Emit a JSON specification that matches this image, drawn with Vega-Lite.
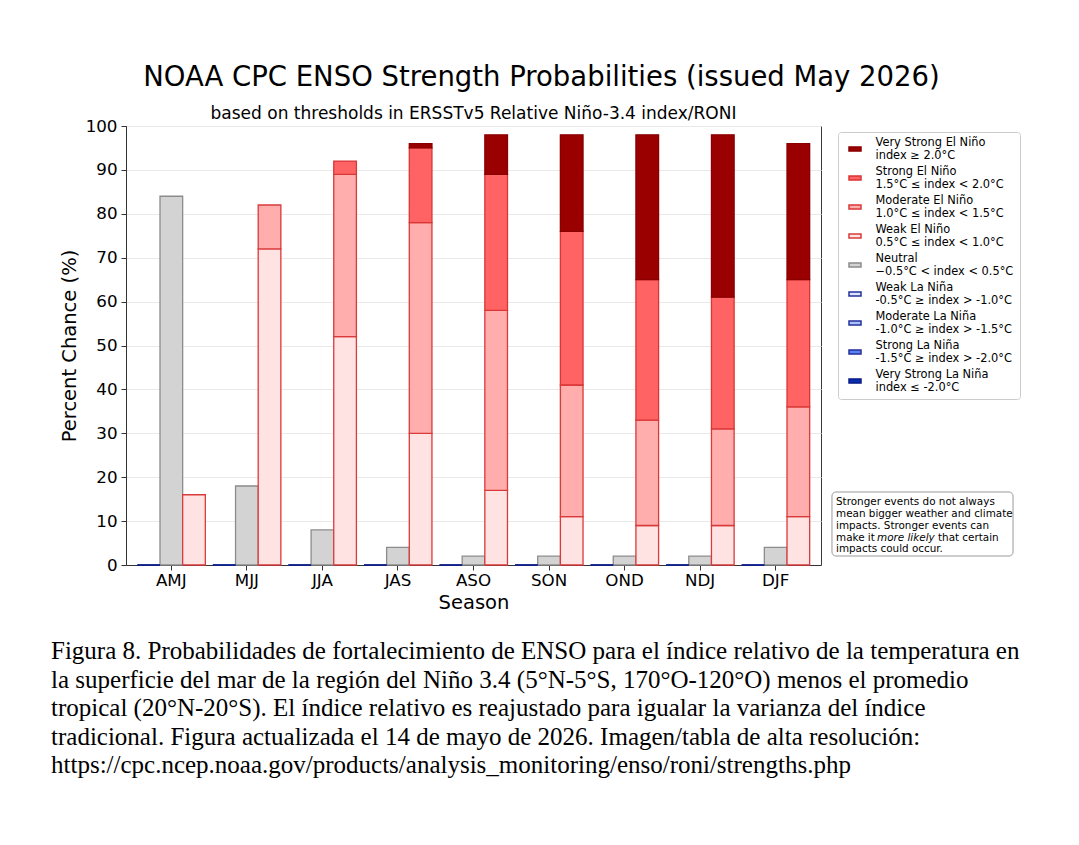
{
  "$schema": "https://vega.github.io/schema/vega-lite/v6.json",
  "width": 695,
  "height": 439,
  "autosize": {"type": "none"},
  "padding": {"left": 126, "top": 126, "right": 258, "bottom": 280},
  "background": "white",
  "config": {
    "font": "DejaVu Sans",
    "view": {"stroke": "#3a3a3a", "strokeWidth": 1},
    "axis": {
      "labelColor": "#000",
      "titleColor": "#000",
      "titleFontWeight": "normal",
      "tickColor": "#333",
      "domainColor": "#333",
      "labelFont": "DejaVu Sans",
      "titleFont": "DejaVu Sans"
    }
  },
  "title": {
    "text": "NOAA CPC ENSO Strength Probabilities (issued May 2026)",
    "font": "DejaVu Sans",
    "fontSize": 27.5,
    "fontWeight": "normal",
    "color": "#000",
    "anchor": "middle",
    "frame": "group",
    "baseline": "alphabetic",
    "dx": 68,
    "offset": -8
  },
  "datasets": {
    "probs": [
      {"season": "AMJ", "group": "Neutral", "category": "Neutral", "rank": 0, "pct": 84},
      {"season": "AMJ", "group": "El Niño", "category": "Weak El Niño", "rank": 1, "pct": 16},
      {"season": "MJJ", "group": "Neutral", "category": "Neutral", "rank": 0, "pct": 18},
      {"season": "MJJ", "group": "El Niño", "category": "Weak El Niño", "rank": 1, "pct": 72},
      {"season": "MJJ", "group": "El Niño", "category": "Moderate El Niño", "rank": 2, "pct": 10},
      {"season": "JJA", "group": "Neutral", "category": "Neutral", "rank": 0, "pct": 8},
      {"season": "JJA", "group": "El Niño", "category": "Weak El Niño", "rank": 1, "pct": 52},
      {"season": "JJA", "group": "El Niño", "category": "Moderate El Niño", "rank": 2, "pct": 37},
      {"season": "JJA", "group": "El Niño", "category": "Strong El Niño", "rank": 3, "pct": 3},
      {"season": "JAS", "group": "Neutral", "category": "Neutral", "rank": 0, "pct": 4},
      {"season": "JAS", "group": "El Niño", "category": "Weak El Niño", "rank": 1, "pct": 30},
      {"season": "JAS", "group": "El Niño", "category": "Moderate El Niño", "rank": 2, "pct": 48},
      {"season": "JAS", "group": "El Niño", "category": "Strong El Niño", "rank": 3, "pct": 17},
      {"season": "JAS", "group": "El Niño", "category": "Very Strong El Niño", "rank": 4, "pct": 1},
      {"season": "ASO", "group": "Neutral", "category": "Neutral", "rank": 0, "pct": 2},
      {"season": "ASO", "group": "El Niño", "category": "Weak El Niño", "rank": 1, "pct": 17},
      {"season": "ASO", "group": "El Niño", "category": "Moderate El Niño", "rank": 2, "pct": 41},
      {"season": "ASO", "group": "El Niño", "category": "Strong El Niño", "rank": 3, "pct": 31},
      {"season": "ASO", "group": "El Niño", "category": "Very Strong El Niño", "rank": 4, "pct": 9},
      {"season": "SON", "group": "Neutral", "category": "Neutral", "rank": 0, "pct": 2},
      {"season": "SON", "group": "El Niño", "category": "Weak El Niño", "rank": 1, "pct": 11},
      {"season": "SON", "group": "El Niño", "category": "Moderate El Niño", "rank": 2, "pct": 30},
      {"season": "SON", "group": "El Niño", "category": "Strong El Niño", "rank": 3, "pct": 35},
      {"season": "SON", "group": "El Niño", "category": "Very Strong El Niño", "rank": 4, "pct": 22},
      {"season": "OND", "group": "Neutral", "category": "Neutral", "rank": 0, "pct": 2},
      {"season": "OND", "group": "El Niño", "category": "Weak El Niño", "rank": 1, "pct": 9},
      {"season": "OND", "group": "El Niño", "category": "Moderate El Niño", "rank": 2, "pct": 24},
      {"season": "OND", "group": "El Niño", "category": "Strong El Niño", "rank": 3, "pct": 32},
      {"season": "OND", "group": "El Niño", "category": "Very Strong El Niño", "rank": 4, "pct": 33},
      {"season": "NDJ", "group": "Neutral", "category": "Neutral", "rank": 0, "pct": 2},
      {"season": "NDJ", "group": "El Niño", "category": "Weak El Niño", "rank": 1, "pct": 9},
      {"season": "NDJ", "group": "El Niño", "category": "Moderate El Niño", "rank": 2, "pct": 22},
      {"season": "NDJ", "group": "El Niño", "category": "Strong El Niño", "rank": 3, "pct": 30},
      {"season": "NDJ", "group": "El Niño", "category": "Very Strong El Niño", "rank": 4, "pct": 37},
      {"season": "DJF", "group": "Neutral", "category": "Neutral", "rank": 0, "pct": 4},
      {"season": "DJF", "group": "El Niño", "category": "Weak El Niño", "rank": 1, "pct": 11},
      {"season": "DJF", "group": "El Niño", "category": "Moderate El Niño", "rank": 2, "pct": 25},
      {"season": "DJF", "group": "El Niño", "category": "Strong El Niño", "rank": 3, "pct": 29},
      {"season": "DJF", "group": "El Niño", "category": "Very Strong El Niño", "rank": 4, "pct": 31},
      {"season": "AMJ", "group": "La Niña", "category": "Weak La Niña", "rank": 1, "pct": 0},
      {"season": "AMJ", "group": "La Niña", "category": "Very Strong La Niña", "rank": 4, "pct": 0},
      {"season": "MJJ", "group": "La Niña", "category": "Weak La Niña", "rank": 1, "pct": 0},
      {"season": "MJJ", "group": "La Niña", "category": "Very Strong La Niña", "rank": 4, "pct": 0},
      {"season": "JJA", "group": "La Niña", "category": "Weak La Niña", "rank": 1, "pct": 0},
      {"season": "JJA", "group": "La Niña", "category": "Very Strong La Niña", "rank": 4, "pct": 0},
      {"season": "JAS", "group": "La Niña", "category": "Weak La Niña", "rank": 1, "pct": 0},
      {"season": "JAS", "group": "La Niña", "category": "Very Strong La Niña", "rank": 4, "pct": 0},
      {"season": "ASO", "group": "La Niña", "category": "Weak La Niña", "rank": 1, "pct": 0},
      {"season": "ASO", "group": "La Niña", "category": "Very Strong La Niña", "rank": 4, "pct": 0},
      {"season": "SON", "group": "La Niña", "category": "Weak La Niña", "rank": 1, "pct": 0},
      {"season": "SON", "group": "La Niña", "category": "Very Strong La Niña", "rank": 4, "pct": 0},
      {"season": "OND", "group": "La Niña", "category": "Weak La Niña", "rank": 1, "pct": 0},
      {"season": "OND", "group": "La Niña", "category": "Very Strong La Niña", "rank": 4, "pct": 0},
      {"season": "NDJ", "group": "La Niña", "category": "Weak La Niña", "rank": 1, "pct": 0},
      {"season": "NDJ", "group": "La Niña", "category": "Very Strong La Niña", "rank": 4, "pct": 0},
      {"season": "DJF", "group": "La Niña", "category": "Weak La Niña", "rank": 1, "pct": 0},
      {"season": "DJF", "group": "La Niña", "category": "Very Strong La Niña", "rank": 4, "pct": 0}
    ]
  },
  "layer": [
    {
      "data": {"name": "probs"},
      "mark": {"type": "bar", "strokeWidth": 1.3},
      "encoding": {
        "x": {
          "field": "season",
          "type": "nominal",
          "sort": ["AMJ", "MJJ", "JJA", "JAS", "ASO", "SON", "OND", "NDJ", "DJF"],
          "scale": {"paddingInner": 0, "paddingOuter": 0.1},
          "axis": {
            "title": "Season",
            "labelAngle": 0,
            "tickSize": 5,
            "labelFontSize": 16.7,
            "labelPadding": 2,
            "titleFontSize": 19.5,
            "titlePadding": 5
          }
        },
        "xOffset": {
          "field": "group",
          "type": "nominal",
          "sort": ["La Niña", "Neutral", "El Niño"],
          "scale": {"paddingInner": 0, "paddingOuter": 0.1667}
        },
        "y": {
          "field": "pct",
          "type": "quantitative",
          "stack": "zero",
          "scale": {"domain": [0, 100], "nice": false},
          "axis": {
            "title": "Percent Chance (%)",
            "values": [0, 10, 20, 30, 40, 50, 60, 70, 80, 90, 100],
            "grid": true,
            "gridColor": "#e9e9e9",
            "gridWidth": 1,
            "tickSize": 5,
            "labelFontSize": 16.7,
            "labelPadding": 4,
            "titleFontSize": 19.5,
            "titlePadding": 6
          }
        },
        "order": {"field": "rank", "type": "quantitative"},
        "color": {
          "field": "category",
          "type": "nominal",
          "scale": {
            "domain": ["Very Strong El Niño", "Strong El Niño", "Moderate El Niño", "Weak El Niño", "Neutral", "Weak La Niña", "Moderate La Niña", "Strong La Niña", "Very Strong La Niña"],
            "range": ["#9a0000", "#ff6363", "#ffadad", "#ffe3e3", "#d3d3d3", "#dbe5ff", "#a8c1ff", "#5a80f4", "#0a2db0"]
          },
          "legend": {
            "title": null,
            "orient": "none",
            "legendX": 712,
            "legendY": 6,
            "labelFont": "DejaVu Sans",
            "labelFontSize": 11.4,
            "labelColor": "#000",
            "labelOffset": 9.5,
            "labelLimit": 0,
            "symbolType": "M-0.6,-0.21H0.6V0.21H-0.6Z",
            "symbolSize": 400,
            "symbolStrokeWidth": 1.5,
            "rowPadding": 5,
            "padding": 6,
            "strokeColor": "#cccccc",
            "fillColor": "white",
            "cornerRadius": 3,
            "labelExpr": "[datum.label, datum.label == 'Very Strong El Niño' ? 'index ≥ 2.0°C' : datum.label == 'Strong El Niño' ? '1.5°C ≤ index < 2.0°C' : datum.label == 'Moderate El Niño' ? '1.0°C ≤ index < 1.5°C' : datum.label == 'Weak El Niño' ? '0.5°C ≤ index < 1.0°C' : datum.label == 'Neutral' ? '−0.5°C < index < 0.5°C' : datum.label == 'Weak La Niña' ? '-0.5°C ≥ index > -1.0°C' : datum.label == 'Moderate La Niña' ? '-1.0°C ≥ index > -1.5°C' : datum.label == 'Strong La Niña' ? '-1.5°C ≥ index > -2.0°C' : 'index ≤ -2.0°C']",
            "encode": {"labels": {"update": {"lineHeight": {"value": 12.5}, "dy": {"value": -6}}}}
          }
        },
        "stroke": {
          "field": "category",
          "type": "nominal",
          "scale": {
            "domain": ["Very Strong El Niño", "Strong El Niño", "Moderate El Niño", "Weak El Niño", "Neutral", "Weak La Niña", "Moderate La Niña", "Strong La Niña", "Very Strong La Niña"],
            "range": ["#8a0000", "#d93636", "#d93a3a", "#d93a3a", "#8c8c8c", "#26309a", "#26309a", "#26309a", "#0a1c88"]
          },
          "legend": {
            "title": null,
            "orient": "none",
            "legendX": 712,
            "legendY": 6,
            "labelFont": "DejaVu Sans",
            "labelFontSize": 11.4,
            "labelColor": "#000",
            "labelOffset": 9.5,
            "labelLimit": 0,
            "symbolType": "M-0.6,-0.21H0.6V0.21H-0.6Z",
            "symbolSize": 400,
            "symbolStrokeWidth": 1.5,
            "rowPadding": 5,
            "padding": 6,
            "strokeColor": "#cccccc",
            "fillColor": "white",
            "cornerRadius": 3,
            "labelExpr": "[datum.label, datum.label == 'Very Strong El Niño' ? 'index ≥ 2.0°C' : datum.label == 'Strong El Niño' ? '1.5°C ≤ index < 2.0°C' : datum.label == 'Moderate El Niño' ? '1.0°C ≤ index < 1.5°C' : datum.label == 'Weak El Niño' ? '0.5°C ≤ index < 1.0°C' : datum.label == 'Neutral' ? '−0.5°C < index < 0.5°C' : datum.label == 'Weak La Niña' ? '-0.5°C ≥ index > -1.0°C' : datum.label == 'Moderate La Niña' ? '-1.0°C ≥ index > -1.5°C' : datum.label == 'Strong La Niña' ? '-1.5°C ≥ index > -2.0°C' : 'index ≤ -2.0°C']",
            "encode": {"labels": {"update": {"lineHeight": {"value": 12.5}, "dy": {"value": -6}}}}
          }
        }
      }
    },
    {
      "data": {"values": [{"label": "based on thresholds in ERSSTv5 Relative Niño-3.4 index/RONI"}]},
      "mark": {"type": "text", "font": "DejaVu Sans", "fontSize": 17, "color": "#000", "align": "center", "baseline": "middle"},
      "encoding": {
        "text": {"field": "label"},
        "x": {"datum": 0.5, "type": "quantitative", "scale": {"domain": [0, 1]}, "axis": null},
        "y": {"datum": 1.0273, "type": "quantitative", "scale": {"domain": [0, 1]}, "axis": null}
      }
    },
    {
      "data": {"values": [{}]},
      "mark": {"type": "rect", "fill": "white", "stroke": "#9a9a9a", "strokeWidth": 1, "cornerRadius": 4},
      "encoding": {
        "x": {"datum": 1.0158, "type": "quantitative", "scale": {"domain": [0, 1]}, "axis": null},
        "x2": {"datum": 1.2763},
        "y": {"datum": 0.1663, "type": "quantitative", "scale": {"domain": [0, 1]}, "axis": null},
        "y2": {"datum": 0.0205}
      }
    },
    {
      "data": {"values": [{"note": "Stronger events do not always\nmean bigger weather and climate\nimpacts. Stronger events can"}]},
      "mark": {"type": "text", "font": "DejaVu Sans", "fontSize": 10.4, "color": "#000", "align": "left", "baseline": "middle", "lineBreak": "\n", "lineHeight": 11.7},
      "encoding": {
        "text": {"field": "note"},
        "x": {"datum": 1.0216, "type": "quantitative", "scale": {"domain": [0, 1]}, "axis": null},
        "y": {"datum": 0.1424, "type": "quantitative", "scale": {"domain": [0, 1]}, "axis": null}
      }
    },
    {
      "data": {"values": [{"note": "make it"}]},
      "mark": {"type": "text", "font": "DejaVu Sans", "fontSize": 10.4, "color": "#000", "align": "left", "baseline": "middle"},
      "encoding": {
        "text": {"field": "note"},
        "x": {"datum": 1.0216, "type": "quantitative", "scale": {"domain": [0, 1]}, "axis": null},
        "y": {"datum": 0.0625, "type": "quantitative", "scale": {"domain": [0, 1]}, "axis": null}
      }
    },
    {
      "data": {"values": [{"note": "more likely"}]},
      "mark": {"type": "text", "font": "DejaVu Sans", "fontSize": 10.4, "fontStyle": "italic", "color": "#000", "align": "left", "baseline": "middle"},
      "encoding": {
        "text": {"field": "note"},
        "x": {"datum": 1.0806, "type": "quantitative", "scale": {"domain": [0, 1]}, "axis": null},
        "y": {"datum": 0.0625, "type": "quantitative", "scale": {"domain": [0, 1]}, "axis": null}
      }
    },
    {
      "data": {"values": [{"note": "that certain"}]},
      "mark": {"type": "text", "font": "DejaVu Sans", "fontSize": 10.4, "color": "#000", "align": "left", "baseline": "middle"},
      "encoding": {
        "text": {"field": "note"},
        "x": {"datum": 1.1683, "type": "quantitative", "scale": {"domain": [0, 1]}, "axis": null},
        "y": {"datum": 0.0625, "type": "quantitative", "scale": {"domain": [0, 1]}, "axis": null}
      }
    },
    {
      "data": {"values": [{"note": "impacts could occur."}]},
      "mark": {"type": "text", "font": "DejaVu Sans", "fontSize": 10.4, "color": "#000", "align": "left", "baseline": "middle"},
      "encoding": {
        "text": {"field": "note"},
        "x": {"datum": 1.0216, "type": "quantitative", "scale": {"domain": [0, 1]}, "axis": null},
        "y": {"datum": 0.0358, "type": "quantitative", "scale": {"domain": [0, 1]}, "axis": null}
      }
    },
    {
      "data": {"values": [{"caption": "Figura 8. Probabilidades de fortalecimiento de ENSO para el índice relativo de la temperatura en\nla superficie del mar de la región del Niño 3.4 (5°N-5°S, 170°O-120°O) menos el promedio\ntropical (20°N-20°S). El índice relativo es reajustado para igualar la varianza del índice\ntradicional. Figura actualizada el 14 de mayo de 2026. Imagen/tabla de alta resolución:\nhttps://cpc.ncep.noaa.gov/products/analysis_monitoring/enso/roni/strengths.php"}]},
      "mark": {"type": "text", "font": "Liberation Serif", "fontSize": 25, "color": "#000", "align": "left", "baseline": "alphabetic", "lineBreak": "\n", "lineHeight": 28.6},
      "encoding": {
        "text": {"field": "caption"},
        "x": {"datum": -0.1079, "type": "quantitative", "scale": {"domain": [0, 1]}, "axis": null},
        "y": {"datum": -0.2141, "type": "quantitative", "scale": {"domain": [0, 1]}, "axis": null}
      }
    }
  ],
  "resolve": {"scale": {"x": "independent", "y": "independent"}}
}
